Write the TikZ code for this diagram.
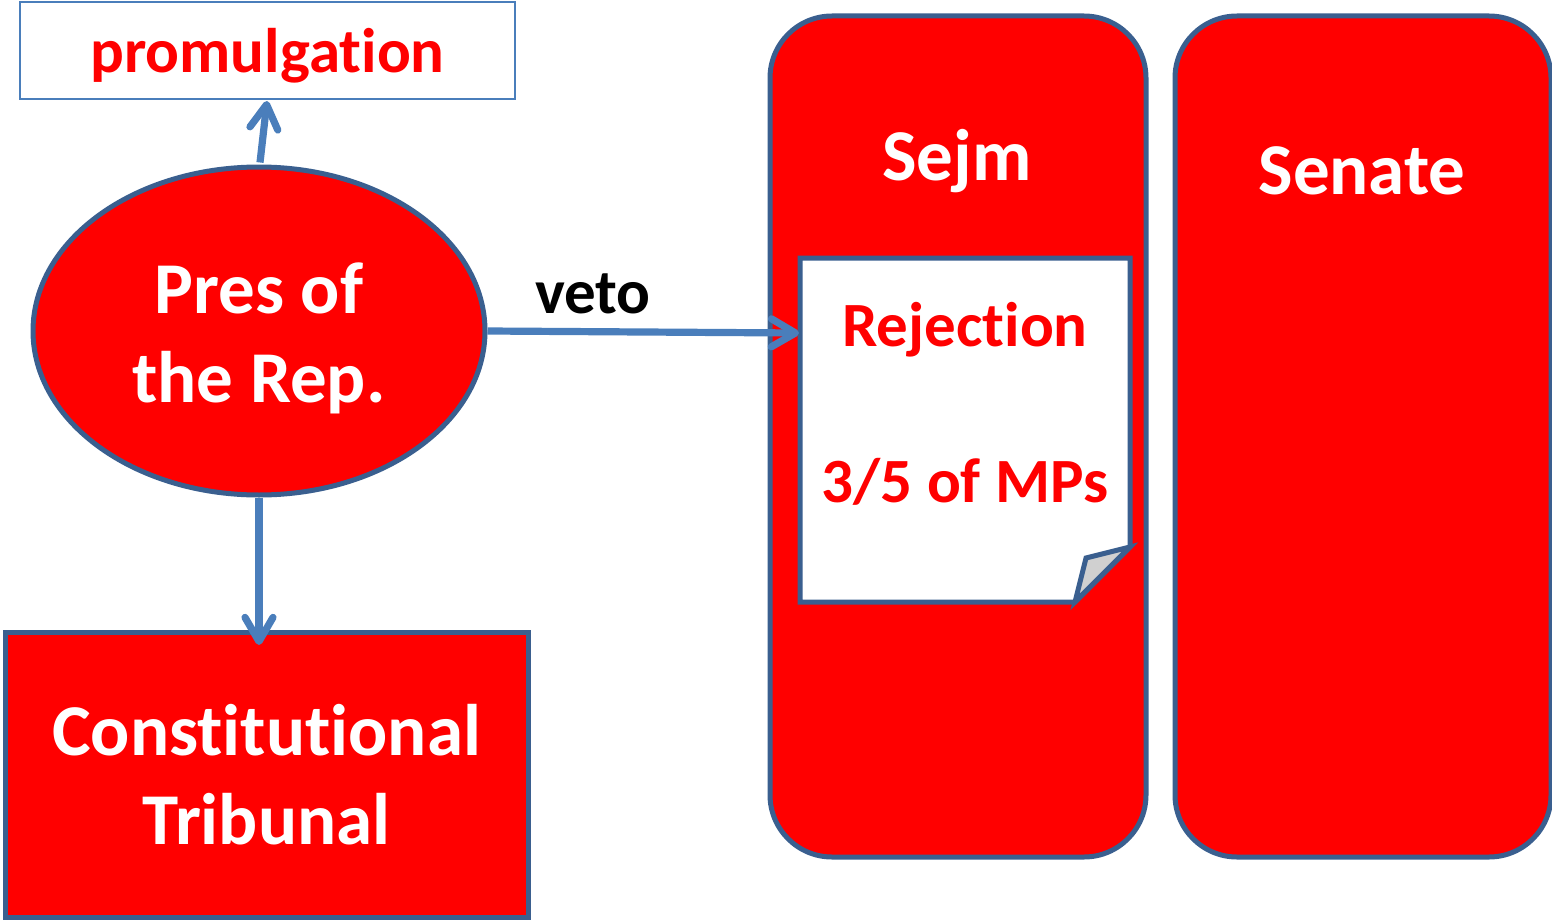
\documentclass[tikz,border=0pt]{standalone}
\usepackage{fontspec}
\setmainfont{Carlito}[Ligatures=NoCommon]
\usetikzlibrary{arrows.meta,shapes.geometric}
\definecolor{bord}{HTML}{3A5F8F}
\definecolor{arr}{HTML}{4A7EBB}
\definecolor{red}{HTML}{FF0000}
\definecolor{foldgrey}{HTML}{D0D0D0}
\tikzset{
  bigtxt/.style={font=\fontsize{36.5}{44.5}\selectfont\bfseries, text=white, align=center},
  smalltxt/.style={font=\fontsize{31.5}{38}\selectfont\bfseries, align=center},
  redbox/.style={fill=red, draw=bord, line width=2.5pt},
  conn/.style={draw=arr, line width=3.6pt, -{Straight Barb[length=12pt,width=14pt,round]}},
}
\begin{document}
\begin{tikzpicture}[x=0.5pt,y=-0.5pt]
\useasboundingbox (0,0) rectangle (1552,920);
% promulgation box
\node[draw=arr, line width=1pt, minimum width=247.5pt, minimum height=48.5pt, inner sep=0pt] (prom) at (267.5,50.5) {};
\node[smalltxt, text=red] (promtxt) at (267.5,56) {promulgation};
% ellipse
\node[ellipse, redbox, minimum width=226pt, minimum height=164pt, inner sep=0pt] (pres) at (259,331) {};
\node[bigtxt] (prestxt) at (259,338) {Pres of\\the Rep.};
% constitutional tribunal
\node[redbox, minimum width=261.5pt, minimum height=142.5pt, inner sep=0pt, bigtxt] (trib) at (266.5,775) {Constitutional\\Tribunal};
% Sejm and Senate
\draw[redbox, rounded corners=31pt] (770,16) rectangle (1146,857);
\draw[redbox, rounded corners=31pt] (1175,16) rectangle (1551,857);
\node[bigtxt] (sejm) at (957,161) {Sejm};
\node[bigtxt] (senate) at (1362,171) {Senate};
% note
\node[minimum width=165pt, minimum height=172pt, inner sep=0pt] (note) at (965,430) {};
\draw[fill=white, draw=bord, line width=2.5pt, line join=miter]
  (800,258) -- (1130,258) -- (1130,547) -- (1075,602) -- (800,602) -- cycle;
\draw[fill=foldgrey, draw=bord, line width=2.5pt, line join=miter]
  (1130,547) -- (1086,558) -- (1075,602) -- cycle;
\node[smalltxt, text=red] (rej) at (965,330) {Rejection};
\node[smalltxt, text=red] (mps) at (965,482) {3/5 of MPs};
% connectors
\coordinate (promin) at (267,101);
\coordinate (vetoend) at (799,333);
\coordinate (tribin) at (259,645);
\draw[conn] (pres.north) ++(1,-2) -- (promin);
\draw[conn] (pres.east) -- (vetoend);
\draw[conn] (pres.south) -- (tribin);
\node[smalltxt, text=black] (veto) at (593,294) {veto};
\end{tikzpicture}
\end{document}
